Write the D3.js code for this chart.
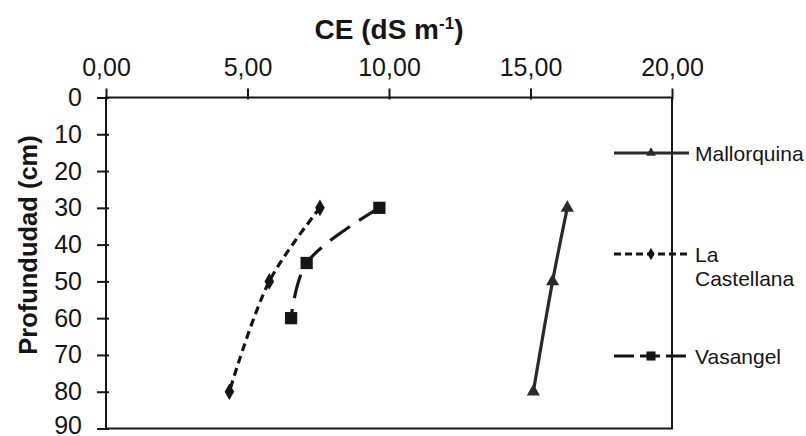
<!DOCTYPE html>
<html>
<head>
<meta charset="utf-8">
<script src="https://cdn.jsdelivr.net/npm/d3@7"></script>
<style>
	body { margin: 0; background: #fff; }
	svg { display: block; font-family: "Liberation Sans", Arial, sans-serif; }
</style>
</head>
<body>
<svg width="806" height="436"></svg>
<script>
'use strict';

// depth (cm) and CE (dS/m)
const seriesNames = ["Mallorquina", "La Castellana", "Vasangel"];
const mallorquinaDepth = [30, 50, 80];
const mallorquinaCE = [16.3, 15.78, 15.1];
const castellanaDepth = [30, 50, 80];
const castellanaCE = [7.56, 5.77, 4.36];
const vasangelDepth = [30, 45, 60];
const vasangelCE = [9.66, 7.09, 6.54];
const xTicks = [0, 5, 10, 15, 20];
const yTicks = [0, 10, 20, 30, 40, 50, 60, 70, 80, 90];

const svg = d3.select("svg");
const ink = "#151515";

const x = d3.scaleLinear().domain([0, 20]).range([106, 672]);
const y = d3.scaleLinear().domain([0, 90]).range([97.5, 428.5]);

const locale = d3.formatLocale({ decimal: ",", thousands: ".", grouping: [3], currency: ["", ""] });
const fmt = locale.format(".2f");

// frame
svg.append("rect")
	.attr("x", x(0)).attr("y", y(0))
	.attr("width", x(20) - x(0)).attr("height", y(90) - y(0))
	.attr("fill", "none").attr("stroke", ink).attr("stroke-width", 2);

const xAxis = svg.append("g")
	.attr("transform", `translate(0,${y(0)})`)
	.call(d3.axisTop(x).tickValues(xTicks).tickFormat(fmt).tickSizeOuter(0).tickSize(8).tickPadding(14));
xAxis.select(".domain").remove();
xAxis.selectAll(".tick line").attr("y2", -9).attr("y1", 2).attr("stroke", ink).attr("stroke-width", 2);
xAxis.selectAll(".tick text").attr("font-size", 25).attr("fill", ink).attr("font-family", null);

const yAxis = svg.append("g")
	.attr("transform", `translate(${x(0)},0)`)
	.call(d3.axisLeft(y).tickValues(yTicks).tickSizeOuter(0).tickSize(8).tickPadding(16));
yAxis.select(".domain").remove();
yAxis.selectAll(".tick line").attr("x2", -9).attr("x1", 3).attr("stroke", ink).attr("stroke-width", 2);
yAxis.selectAll(".tick text").attr("font-size", 25).attr("fill", ink).attr("font-family", null)
	.attr("dy", d => d === 90 ? "0.2em" : "0.32em"); // last label sits at the window edge

// titles
const title = svg.append("text")
	.attr("x", 389).attr("y", 39)
	.attr("text-anchor", "middle")
	.attr("font-size", 28).attr("font-weight", "bold").attr("fill", ink);
title.append("tspan").text("CE (dS m");
title.append("tspan").attr("font-size", 17).attr("dy", -10).text("-1");
title.append("tspan").attr("dy", 10).text(")");

svg.append("text")
	.attr("transform", "translate(37,245) rotate(-90)")
	.attr("text-anchor", "middle")
	.attr("font-size", 25.5).attr("font-weight", "bold").attr("fill", ink)
	.text("Profundudad (cm)");

// series
const series = [
	{ name: seriesNames[0], depth: mallorquinaDepth, ce: mallorquinaCE, dash: null, symbol: d3.symbolTriangle, size: 75, color: "#2a2a2a" },
	{ name: seriesNames[1], depth: castellanaDepth, ce: castellanaCE, dash: "8,5", symbol: d3.symbolDiamond, size: 80, color: ink },
	{ name: seriesNames[2], depth: vasangelDepth, ce: vasangelCE, dash: "24,11", symbol: d3.symbolSquare, size: 150, color: ink }
];

const line = d3.line()
	.x(d => x(d[1]))
	.y(d => y(d[0]))
	.curve(d3.curveCatmullRom.alpha(0.5));

series.forEach(s => {
	const pts = s.depth.map((d, i) => [d, s.ce[i]]);
	svg.append("path")
		.attr("d", line(pts))
		.attr("fill", "none")
		.attr("stroke", s.color)
		.attr("stroke-width", 3.2)
		.attr("stroke-dasharray", s.dash);
	svg.selectAll(null)
		.data(pts)
		.enter().append("path")
		.attr("transform", d => `translate(${x(d[1])},${y(d[0])})`)
		.attr("d", d3.symbol().type(s.symbol).size(s.size))
		.attr("fill", s.color);
});

// legend
const legendY = [153, 254, 356];
series.forEach((s, i) => {
	const g = svg.append("g").attr("transform", `translate(0,${legendY[i]})`);
	g.append("line")
		.attr("x1", 614).attr("x2", 689)
		.attr("stroke", s.color).attr("stroke-width", 3)
		.attr("stroke-dasharray", s.dash ? (i === 1 ? "7,4" : "20,6") : null);
	g.append("path")
		.attr("transform", "translate(651,0)")
		.attr("d", d3.symbol().type(s.symbol).size(s.size * 0.55))
		.attr("fill", s.color);
	const t = g.append("text")
		.attr("x", 695)
		.attr("font-size", 21).attr("fill", ink);
	if (i === 1) {
		t.append("tspan").attr("x", 695).attr("dy", 8).text("La");
		t.append("tspan").attr("x", 695).attr("dy", 24).text("Castellana");
	} else {
		t.attr("dy", 7.5).text(s.name);
	}
});
</script>
</body>
</html>
